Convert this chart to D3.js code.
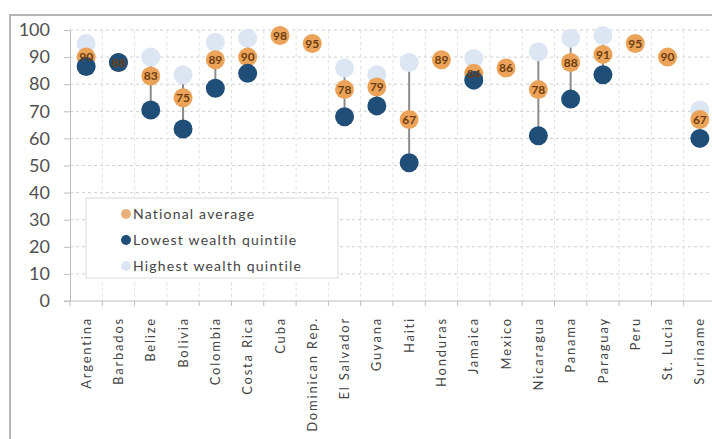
<!DOCTYPE html>
<html>
<head>
<meta charset="utf-8">
<script src="https://cdn.jsdelivr.net/npm/d3@7"></script>
<style>
  body { margin: 0; background: #fff; }
  text { font-family: Lato, "Open Sans", sans-serif; }
</style>
</head>
<body>
<div id="chart"></div>
<script>
// Data
var countries = ["Argentina", "Barbados", "Belize", "Bolivia", "Colombia", "Costa Rica", "Cuba",
  "Dominican Rep.", "El Salvador", "Guyana", "Haiti", "Honduras", "Jamaica", "Mexico",
  "Nicaragua", "Panama", "Paraguay", "Peru", "St. Lucia", "Suriname"];
var national = [90, 88, 83, 75, 89, 90, 98, 95, 78, 79, 67, 89, 84, 86, 78, 88, 91, 95, 90, 67];
var lowest   = [86.5, 88, 70.5, 63.5, 78.5, 84, null, null, 68, 72, 51, null, 81.5, null, 61, 74.5, 83.5, null, null, 60];
var highest  = [95, null, 90, 83.5, 95.5, 97, null, null, 86, 83.5, 88, null, 89.5, null, 92, 97, 98, null, null, 70.5];
var yTicks = [0, 10, 20, 30, 40, 50, 60, 70, 80, 90, 100];

var seriesNames = ["National average", "Lowest wealth quintile", "Highest wealth quintile"];
var colors = { nat: "#EBA35A", low: "#1F4E79", high: "#DCE6F2" };

var width = 712, height = 439;
var svg = d3.select("#chart").append("svg")
  .attr("width", width)
  .attr("height", height);

// outer frame (cropped on right and bottom)
svg.append("rect")
  .attr("x", 10).attr("y", 15)
  .attr("width", 760).attr("height", 480)
  .attr("fill", "none")
  .attr("stroke", "#b5b5b5")
  .attr("stroke-width", 2);

var plotLeft = 70, plotTop = 30, plotBottom = 301;
var x = d3.scaleBand().domain(countries).range([plotLeft, plotLeft + 32.3 * countries.length]);
var y = d3.scaleLinear().domain([0, 100]).range([plotBottom, plotTop]);

// gridlines
svg.append("g").selectAll("line")
  .data(yTicks.slice(1))
  .join("line")
  .attr("x1", plotLeft).attr("x2", width)
  .attr("y1", d => y(d)).attr("y2", d => y(d))
  .attr("stroke", "#cfcfcf")
  .attr("stroke-dasharray", "3,3");

svg.append("g").selectAll("line")
  .data(countries.slice(1))
  .join("line")
  .attr("x1", d => x(d)).attr("x2", d => x(d))
  .attr("y1", plotTop).attr("y2", plotBottom)
  .attr("stroke", "#e0e0e0")
  .attr("stroke-dasharray", "3,3");

// axes
var yAxis = svg.append("g")
  .attr("transform", "translate(" + plotLeft + ",0)")
  .call(d3.axisLeft(y).tickValues(yTicks).tickSize(6).tickPadding(14));
yAxis.select(".domain").attr("stroke", "#bdbdbd");
yAxis.selectAll(".tick line").attr("stroke", "#bdbdbd");
yAxis.selectAll("text")
  .attr("font-size", 18)
  .attr("fill", "#505050");

var xAxis = svg.append("g")
  .attr("transform", "translate(0," + plotBottom + ")")
  .call(d3.axisBottom(x).tickSize(0).tickPadding(0));
xAxis.select(".domain").remove();
xAxis.append("line")
  .attr("x1", plotLeft - 6).attr("x2", width)
  .attr("stroke", "#bdbdbd");
xAxis.selectAll(".bandtick")
  .data(countries)
  .join("line")
  .attr("x1", d => x(d)).attr("x2", d => x(d))
  .attr("y1", 0).attr("y2", 5)
  .attr("stroke", "#bdbdbd");
xAxis.selectAll(".tick text")
  .attr("transform", "rotate(-90)")
  .attr("text-anchor", "end")
  .attr("dx", "-16")
  .attr("dy", "0.35em")
  .attr("x", 0).attr("y", 0)
  .attr("font-size", 13)
  .attr("letter-spacing", "1.8px")
  .attr("fill", "#444");

var rows = countries.map((c, i) => ({ c: c, nat: national[i], low: lowest[i], high: highest[i] }));
var cx = d => x(d.c) + x.bandwidth() / 2;
var r = 9.5;

// connector lines
svg.append("g").selectAll("line")
  .data(rows.filter(d => d.low != null && d.high != null))
  .join("line")
  .attr("x1", cx).attr("x2", cx)
  .attr("y1", d => y(d.low)).attr("y2", d => y(d.high))
  .attr("stroke", "#8c8c8c")
  .attr("stroke-width", 2);

svg.append("g").selectAll("circle")
  .data(rows.filter(d => d.high != null))
  .join("circle")
  .attr("cx", cx).attr("cy", d => y(d.high)).attr("r", r)
  .attr("fill", colors.high);

svg.append("g").selectAll("circle")
  .data(rows)
  .join("circle")
  .attr("cx", cx).attr("cy", d => y(d.nat)).attr("r", r)
  .attr("fill", colors.nat);

svg.append("g").selectAll("circle")
  .data(rows.filter(d => d.low != null))
  .join("circle")
  .attr("cx", cx).attr("cy", d => y(d.low)).attr("r", r)
  .attr("fill", colors.low);

// value labels on national average
svg.append("g").selectAll("text")
  .data(rows)
  .join("text")
  .attr("x", cx).attr("y", d => y(d.nat))
  .attr("dy", "0.36em")
  .attr("text-anchor", "middle")
  .attr("font-size", 12)
  .attr("font-weight", "bold")
  .attr("fill", "#6b3d10")
  .text(d => d.nat);

// legend
var lg = svg.append("g");
lg.append("rect")
  .attr("x", 86).attr("y", 198)
  .attr("width", 252).attr("height", 80)
  .attr("fill", "#fff")
  .attr("stroke", "#dadada");
var lgColors = [colors.nat, colors.low, colors.high];
seriesNames.forEach(function(name, i) {
  var ly = 214 + i * 26;
  lg.append("circle")
    .attr("cx", 126).attr("cy", ly).attr("r", 5)
    .attr("fill", i === 0 ? "#E8B07A" : lgColors[i]);
  lg.append("text")
    .attr("x", 133).attr("y", ly)
    .attr("dy", "0.35em")
    .attr("font-size", 14)
    .attr("letter-spacing", "1.2px")
    .attr("fill", "#444")
    .text(name);
});
</script>
</body>
</html>
